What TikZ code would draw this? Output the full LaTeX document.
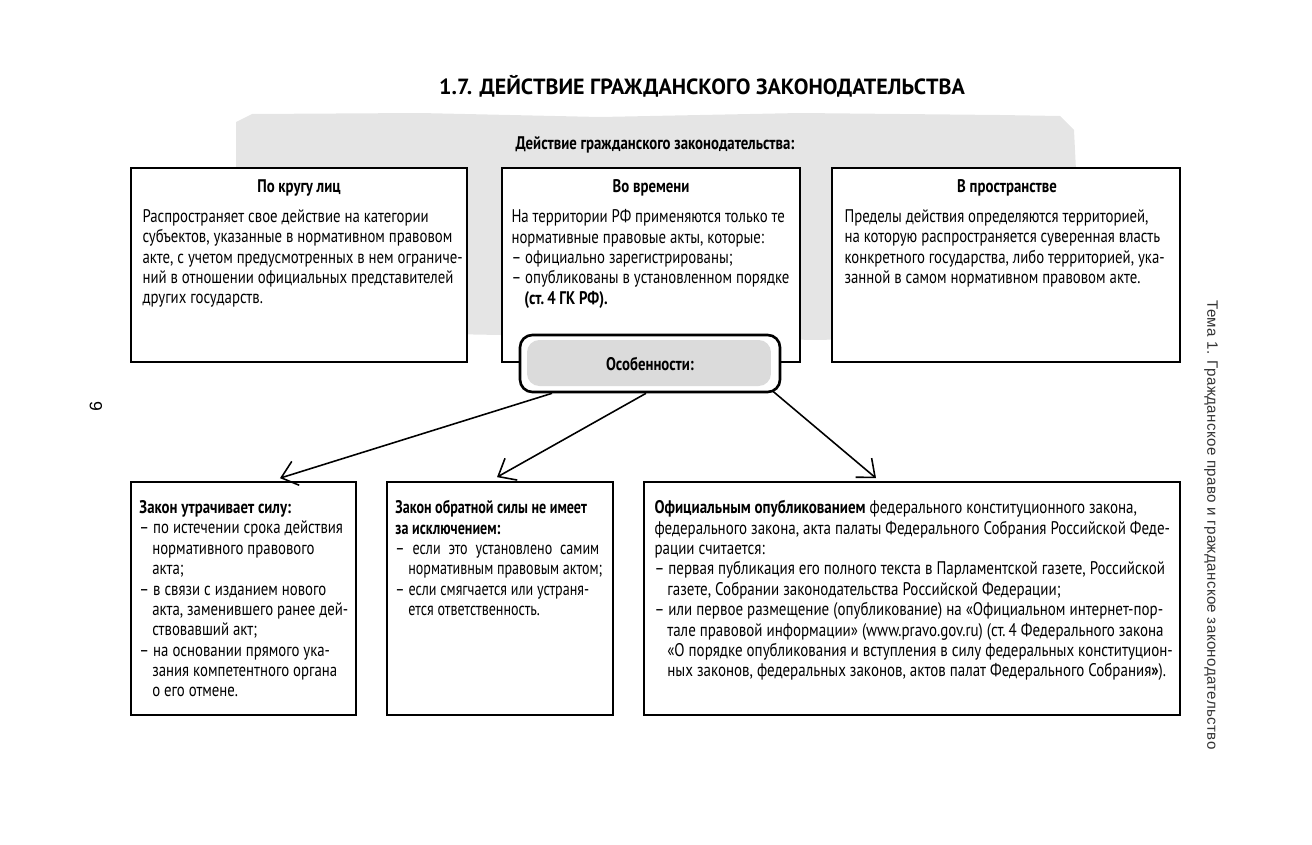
\documentclass[tikz,border=0pt]{standalone}
\usepackage{fontspec}
\setmainfont{PT Sans}[FakeStretch=0.81]
\newfontfamily\narrowfont{PT Sans}[FakeStretch=0.77]
\newfontfamily\widefont{PT Sans}[FakeStretch=0.82]
\newfontfamily\titlefont{PT Sans}
\newfontfamily\sidefont{Liberation Sans}[LetterSpace=2.5]
\usetikzlibrary{arrows.meta,positioning}

\newcommand\ind{\hspace*{0.7em}}

\tikzset{
  box/.style={draw,line width=1pt,fill=white},
  head/.style={font=\fontsize{10.4}{11.6}\selectfont\bfseries},
  body/.style={anchor=north west,inner sep=0pt,align=left,font=\fontsize{10.4}{11.6}\selectfont},
  arr/.style={-{Straight Barb[length=3mm,width=5mm]},line width=0.9pt},
}

\begin{document}
\begin{tikzpicture}[x=0.02cm,y=-0.02cm]
\useasboundingbox (0,0) rectangle (1312,845);

% title and gray band
\node[font=\titlefont\fontsize{12.5}{14}\selectfont\bfseries] (title) at (702,86) {1.7. ДЕЙСТВИЕ ГРАЖДАНСКОГО ЗАКОНОДАТЕЛЬСТВА};
\fill[black!10] (236,122) -- (252,114) -- (420,113) -- (600,117) -- (800,113) -- (1000,115)
  -- (1060,116) -- (1074,130) -- (1076,170) -- (1076,330) -- (820,340) -- (500,335) -- (236,330) -- cycle;
\node[head] (main) at (655,145) {Действие гражданского законодательства:};

% top row
\node[box,minimum width=6.72cm,minimum height=3.88cm] (lica) at (299,265) {};
\node[box,minimum width=5.96cm,minimum height=3.88cm] (vremya) at (651,265) {};
\node[box,minimum width=6.96cm,minimum height=3.88cm] (prostr) at (1006,265) {};

\node[head] (licaH) at (299,188) {По кругу лиц};
\node[head] (vremyaH) at (651,188) {Во времени};
\node[head] (prostrH) at (1007,188) {В пространстве};

\node[body] (licaT) at ([shift={(12,42)}]lica.north west) {Распространяет свое действие на категории\\
субъектов, указанные в нормативном правовом\\
акте, с учетом предусмотренных в нем ограниче-\\
ний в отношении официальных представителей\\
других государств.};
\node[body] (vremyaT) at ([shift={(10,42)}]vremya.north west) {На территории РФ применяются только те\\
нормативные правовые акты, которые:\\
– официально зарегистрированы;\\
– опубликованы в установленном порядке\\
\ind\textbf{(ст.\,4 ГК РФ).}};
\node[body] (prostrT) at ([shift={(13,42)}]prostr.north west) {Пределы действия определяются территорией,\\
на которую распространяется суверенная власть\\
конкретного государства, либо территорией, ука-\\
занной в самом нормативном правовом акте.};

% features
\node[draw,line width=1.5pt,rounded corners=7pt,fill=white,minimum width=5.2cm,minimum height=1.14cm,head,
  path picture={\fill[black!14] ([shift={(0.14cm,-0.1cm)}]path picture bounding box.north west)
    rectangle ([shift={(-0.18cm,0.12cm)}]path picture bounding box.south east);}] (osob) at (650,363.5) {Особенности:};

% bottom row
\node[box,minimum width=4.5cm,minimum height=4.66cm] (sila) at (243.5,598.5) {};
\node[box,minimum width=4.52cm,minimum height=4.66cm] (obr) at (500,598.5) {};
\node[box,minimum width=10.72cm,minimum height=4.66cm] (opub) at (912,598.5) {};

\node[body] (silaT) at ([shift={(9,19)}]sila.north west) {\textbf{Закон утрачивает силу:}\\
– по истечении срока действия\\
\ind нормативного правового\\
\ind акта;\\
– в связи с изданием нового\\
\ind акта, заменившего ранее дей-\\
\ind ствовавший акт;\\
– на основании прямого ука-\\
\ind зания компетентного органа\\
\ind о его отмене.};
\node[body,font=\narrowfont\fontsize{10.4}{11.6}\selectfont] (obrT) at ([shift={(9,19)}]obr.north west) {\textbf{Закон обратной силы не имеет}\\
\textbf{за исключением:}\\
\makebox[116pt][s]{– если это установлено самим}\\
\ind нормативным правовым актом;\\
– если смягчается или устраня-\\
\ind ется ответственность.};
\node[body,font=\widefont\fontsize{10.4}{11.6}\selectfont] (opubT) at ([shift={(11,19)}]opub.north west) {\textbf{Официальным опубликованием} федерального конституционного закона,\\
федерального закона, акта палаты Федерального Собрания Российской Феде-\\
рации считается:\\
– первая публикация его полного текста в Парламентской газете, Российской\\
\ind газете, Собрании законодательства Российской Федерации;\\
– или первое размещение (опубликование) на «Официальном интернет-пор-\\
\ind тале правовой информации» (www.pravo.gov.ru) (ст.\,4 Федерального закона\\
\ind «О порядке опубликования и вступления в силу федеральных конституцион-\\
\ind ных законов, федеральных законов, актов палат Федерального Собрания\textbf{»}).};

% arrows
\draw[arr] ([xshift=-1.96cm]osob.south) -- ([xshift=0.73cm,yshift=0.06cm]sila.north);
\draw[arr] ([xshift=-0.08cm]osob.south) -- ([xshift=-0.06cm,yshift=0.08cm]obr.north);
\draw[arr] ([xshift=2.46cm,yshift=0.04cm]osob.south) -- ([xshift=-0.72cm,yshift=0.06cm]opub.north);

% margins
\node[rotate=-90,font=\sidefont\fontsize{8.6}{10}\selectfont,text=black!80] (side) at (1211,525) {Тема 1. Гражданское право и гражданское законодательство};
\node[rotate=-90,font=\sidefont\fontsize{10}{12}\selectfont] (page) at (96,406) {9};
\end{tikzpicture}
\end{document}
